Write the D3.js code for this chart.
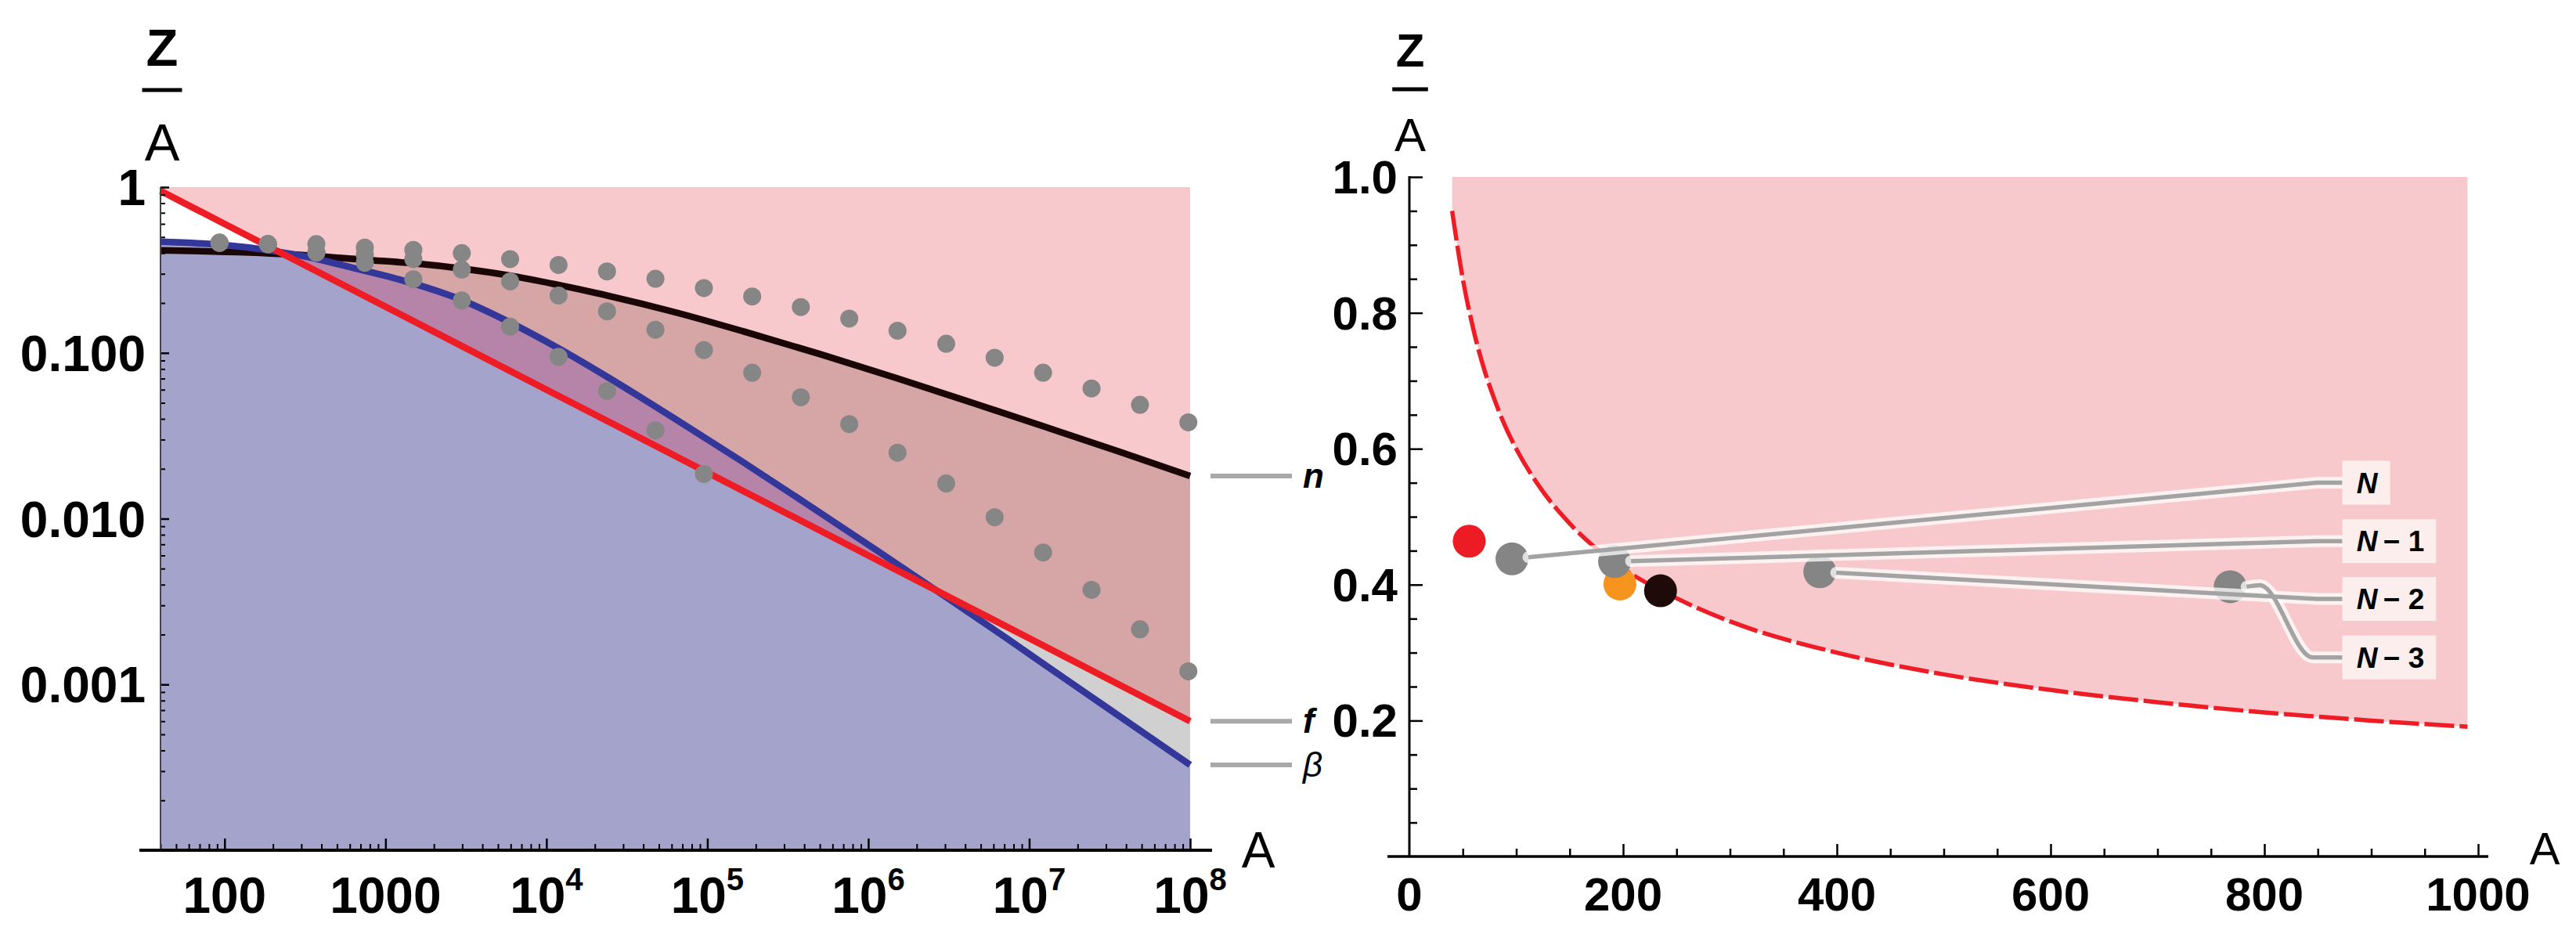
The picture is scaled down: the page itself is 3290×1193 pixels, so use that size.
<!DOCTYPE html>
<html>
<head>
<meta charset="utf-8">
<script src="https://cdn.jsdelivr.net/npm/d3@7"></script>
<style>
body { margin: 0; background: #fff; }
svg { display: block; }
text { font-family: "Liberation Sans", Arial, sans-serif; fill: #000; }
</style>
</head>
<body>
<svg id="chart" width="3290" height="1193"></svg>
<script>
// ---- left panel data (log-log) ----
var fA = [40, 100, 1000, 1e4, 1e5, 1e6, 1e7, 1e8];
var fZ = [0.949, 0.60, 0.19, 0.060, 0.019, 0.0060, 0.0019, 0.0006];

var nA = [40, 248, 770, 1490, 2960, 5920, 11860, 24270, 61500, 166800, 503000, 1514000, 4550000, 13000000, 37000000, 1e8];
var nZ = [0.416, 0.394, 0.364, 0.347, 0.323, 0.293, 0.257, 0.221, 0.177, 0.135, 0.0982, 0.0702, 0.0496, 0.0354, 0.0252, 0.0181];

var betaA = [40, 97, 187, 316, 641, 1493, 2958, 5916, 11860, 24270, 61500, 159000, 412000, 1120000, 2750000, 7130000, 18500000, 47700000, 1e8];
var betaZ = [0.468, 0.448, 0.416, 0.382, 0.324, 0.262, 0.209, 0.153, 0.1067, 0.0710, 0.0406, 0.0226, 0.01233, 0.00647, 0.0036, 0.00192, 0.00101, 0.000537, 0.000327];

var dotA = [93, 186, 372, 744, 1490, 2980, 5950, 11900, 23800, 47600, 95200, 190000, 381000, 762000,
            1520000, 3050000, 6100000, 12200000, 24400000, 48800000, 97500000];
var dotUpper = [0.462, 0.453, 0.453, 0.432, 0.418, 0.40, 0.368, 0.339, 0.310, 0.280, 0.246, 0.219, 0.189, 0.161,
                0.136, 0.1135, 0.0935, 0.0759, 0.061, 0.0486, 0.0381];
var dotMiddle = [0.462, 0.453, 0.405, 0.39, 0.368, 0.318, 0.270, 0.222, 0.178, 0.138, 0.104, 0.0759, 0.054, 0.0372,
                 0.025, 0.0163, 0.0102, 0.00625, 0.00372, 0.00215, 0.0012];
var dotLower = [0.462, 0.453, 0.403, 0.35, 0.278, 0.207, 0.144, 0.0947, 0.0589, 0.0341, 0.0186, null, null, null,
                null, null, null, null, null, null, null];

var leftXTicks = [100, 1000, 1e4, 1e5, 1e6, 1e7, 1e8];
var leftXLabels = ["100", "1000", "10^4", "10^5", "10^6", "10^7", "10^8"];
var leftYTicks = [1, 0.1, 0.01, 0.001];
var leftYLabels = ["1", "0.100", "0.010", "0.001"];
var curveNames = ["n", "f", "\u03b2"];

// ---- right panel data (linear) ----
var fLinA = [40, 50, 60, 70, 80, 90, 100, 120, 150, 200, 250, 300, 400, 500, 600, 700, 800, 900, 990];
var fLinZ = [0.95, 0.85, 0.775, 0.717, 0.671, 0.632, 0.60, 0.548, 0.49, 0.424, 0.38, 0.346, 0.30, 0.268, 0.245, 0.227, 0.212, 0.20, 0.191];

var nucA = [56, 96, 197, 192, 235, 384, 768];
var nucZ = [0.464, 0.438, 0.401, 0.434, 0.391, 0.419, 0.397];
var nucKind = ["iron", "seq", "gold", "seq", "uranium", "seq", "seq"];

var calloutNames = ["N", "N\u2212 1", "N\u2212 2", "N\u2212 3"];
var calloutFromA = [96, 192, 384, 768];
var calloutZ = [0.55, 0.464, 0.379, 0.293];

var rightXTicks = [0, 200, 400, 600, 800, 1000];
var rightYTicks = [0.2, 0.4, 0.6, 0.8, 1.0];

function zip(a, b) {
	return a.map(function(v, i) { return [v, b[i]]; });
}

var svg = d3.select("#chart");
var defs = svg.append("defs");

var xL = d3.scaleLog().domain([40, 1e8]).range([205, 1520]);
var yL = d3.scaleLog().domain([1e-4, 1]).range([1086, 239]);
var xR = d3.scaleLinear().domain([0, 1000]).range([1800, 3165]);
var yR = d3.scaleLinear().domain([0, 1]).range([1094, 226]);

var fPts = zip(fA, fZ), nPts = zip(nA, nZ), bPts = zip(betaA, betaZ);

// ================= left panel =================
var left = svg.append("g");
var plotTop = yL.range()[1], plotBottom = yL.range()[0];
var x0 = xL.range()[0], x1 = xL.range()[1];

function addClip(id, pts, toTop) {
	var area = d3.area().curve(d3.curveMonotoneX)
		.x(function(d) { return xL(d[0]); })
		.y0(toTop ? plotTop : plotBottom)
		.y1(function(d) { return yL(d[1]); });
	defs.append("clipPath").attr("id", id).append("path").attr("d", area(pts));
}
addClip("aboveF", fPts, true);
addClip("belowF", fPts, false);
addClip("belowN", nPts, false);
addClip("belowB", bPts, false);

function band(color, clipA, clipB) {
	var g = left.append("g").attr("clip-path", "url(#" + clipA + ")");
	var r = g.append("rect")
		.attr("x", x0).attr("y", plotTop)
		.attr("width", x1 - x0).attr("height", plotBottom - plotTop)
		.attr("fill", color);
	if (clipB) r.attr("clip-path", "url(#" + clipB + ")");
}
band("#f8c9cc", "aboveF");
band("#d6a5a5", "aboveF", "belowN");
band("#d0d0d0", "belowF", "belowN");
band("#a3a3cc", "belowF", "belowB");
band("#b584a8", "aboveF", "belowB");

var lineL = d3.line().curve(d3.curveMonotoneX)
	.x(function(d) { return xL(d[0]); })
	.y(function(d) { return yL(d[1]); });

left.append("path").attr("d", lineL(nPts)).attr("fill", "none")
	.attr("stroke", "#1a0606").attr("stroke-width", 8.5);
left.append("path").attr("d", lineL(bPts)).attr("fill", "none")
	.attr("stroke", "#33379a").attr("stroke-width", 8.5);
left.append("path").attr("d", lineL(fPts)).attr("fill", "none")
	.attr("stroke", "#ee1d25").attr("stroke-width", 8.5);

[dotLower, dotMiddle, dotUpper].forEach(function(series) {
	left.append("g").selectAll("circle")
		.data(zip(dotA, series).filter(function(d) { return d[1] != null; }))
		.enter().append("circle")
		.attr("cx", function(d) { return xL(d[0]); })
		.attr("cy", function(d) { return yL(d[1]); })
		.attr("r", 11.5)
		.attr("fill", "#868686");
});

// curve name tags on the right of the panel
var tagEnds = [nZ[nZ.length - 1], fZ[fZ.length - 1], betaZ[betaZ.length - 1]];
tagEnds.forEach(function(v, i) {
	var y = yL(v);
	left.append("line").attr("x1", 1546).attr("x2", 1650).attr("y1", y).attr("y2", y)
		.attr("stroke", "#a9a9a9").attr("stroke-width", 6);
	left.append("text").attr("x", 1664).attr("y", y + 15)
		.attr("font-size", 44)
		.attr("font-style", "italic")
		.attr("font-weight", i < 2 ? "bold" : "normal")
		.text(curveNames[i]);
});

// axes
function isPow10(v) {
	var l = Math.log10(v);
	return Math.abs(l - Math.round(l)) < 1e-6;
}
var xMinorL = xL.ticks().filter(function(v) { return !isPow10(v); });
var yMinorL = yL.ticks().filter(function(v) { return !isPow10(v); });

function styleAxis(g, w) {
	g.select(".domain").remove();
	g.selectAll("line").attr("stroke", "#000").attr("stroke-width", w);
}

left.append("g").attr("transform", "translate(0," + plotBottom + ")")
	.call(d3.axisBottom(xL).tickValues(xMinorL).tickSize(-8).tickFormat(""))
	.call(styleAxis, 2);
left.append("g").attr("transform", "translate(0," + plotBottom + ")")
	.call(d3.axisBottom(xL).tickValues(leftXTicks).tickSize(-15).tickFormat(""))
	.call(styleAxis, 2.5);
left.append("g").attr("transform", "translate(" + x0 + ",0)")
	.call(d3.axisLeft(yL).tickValues(yMinorL).tickSize(-6).tickFormat(""))
	.call(styleAxis, 2);
left.append("g").attr("transform", "translate(" + x0 + ",0)")
	.call(d3.axisLeft(yL).tickValues(leftYTicks).tickSize(-11).tickFormat(""))
	.call(styleAxis, 2.5);

left.append("line").attr("x1", x0).attr("x2", x0).attr("y1", plotTop).attr("y2", plotBottom)
	.attr("stroke", "#444").attr("stroke-width", 2);
left.append("line").attr("x1", 178).attr("x2", 1548).attr("y1", plotBottom).attr("y2", plotBottom)
	.attr("stroke", "#000").attr("stroke-width", 4);

leftYTicks.forEach(function(v, i) {
	left.append("text").attr("x", 186).attr("y", yL(v) + 23)
		.attr("text-anchor", "end").attr("font-size", 64).attr("font-weight", "bold")
		.text(leftYLabels[i]);
});
leftXTicks.forEach(function(v, i) {
	var parts = leftXLabels[i].split("^");
	var t = left.append("text").attr("x", xL(v)).attr("y", 1166)
		.attr("text-anchor", "middle").attr("font-size", 64).attr("font-weight", "bold");
	t.append("tspan").text(parts[0]);
	if (parts[1]) t.append("tspan").attr("dy", -29).attr("font-size", 40).text(parts[1]);
});

left.append("text").attr("x", 1607).attr("y", 1108).attr("text-anchor", "middle")
	.attr("font-size", 64).text("A");

function fraction(g, cx, size, zBase, barY, aBase) {
	g.append("text").attr("x", cx).attr("y", zBase).attr("text-anchor", "middle")
		.attr("font-size", size).attr("font-weight", "bold").text("Z");
	g.append("line").attr("x1", cx - size * 0.38).attr("x2", cx + size * 0.38)
		.attr("y1", barY).attr("y2", barY).attr("stroke", "#000").attr("stroke-width", 5);
	g.append("text").attr("x", cx).attr("y", aBase).attr("text-anchor", "middle")
		.attr("font-size", size).text("A");
}
fraction(left, 207, 67, 84, 115, 205);

// ================= right panel =================
var right = svg.append("g");
var fLinPts = zip(fLinA, fLinZ);

right.append("path")
	.attr("d", d3.area().curve(d3.curveMonotoneX)
		.x(function(d) { return xR(d[0]); })
		.y0(yR(1))
		.y1(function(d) { return yR(d[1]); })(fLinPts))
	.attr("fill", "#f8c9cc");

right.append("path")
	.attr("d", d3.line().curve(d3.curveMonotoneX)
		.x(function(d) { return xR(d[0]); })
		.y(function(d) { return yR(d[1]); })(fLinPts))
	.attr("fill", "none").attr("stroke", "#ee1d25").attr("stroke-width", 5.5)
	.attr("stroke-dasharray", "38,7");

// axes
var xMinorR = d3.range(50, 1001, 50).filter(function(v) { return v % 200 !== 0; });
var yMinorR = d3.range(1, 20).map(function(k) { return k * 0.05; })
	.filter(function(v) { return Math.abs(v * 5 - Math.round(v * 5)) > 1e-6; });

right.append("g").attr("transform", "translate(0," + yR(0) + ")")
	.call(d3.axisBottom(xR).tickValues(xMinorR).tickSize(-10).tickFormat(""))
	.call(styleAxis, 2.5);
right.append("g").attr("transform", "translate(0," + yR(0) + ")")
	.call(d3.axisBottom(xR).tickValues(rightXTicks.slice(1)).tickSize(-16).tickFormat(""))
	.call(styleAxis, 2.5);
right.append("g").attr("transform", "translate(" + xR(0) + ",0)")
	.call(d3.axisLeft(yR).tickValues(yMinorR).tickSize(-10).tickFormat(""))
	.call(styleAxis, 2.5);
right.append("g").attr("transform", "translate(" + xR(0) + ",0)")
	.call(d3.axisLeft(yR).tickValues(rightYTicks).tickSize(-17).tickFormat(""))
	.call(styleAxis, 2.5);

right.append("line").attr("x1", xR(0)).attr("x2", xR(0)).attr("y1", yR(1) - 1).attr("y2", yR(0))
	.attr("stroke", "#000").attr("stroke-width", 3);
right.append("line").attr("x1", 1772).attr("x2", 3178).attr("y1", yR(0)).attr("y2", yR(0))
	.attr("stroke", "#000").attr("stroke-width", 3.5);

rightYTicks.forEach(function(v) {
	right.append("text").attr("x", 1785).attr("y", yR(v) + 21)
		.attr("text-anchor", "end").attr("font-size", 60).attr("font-weight", "bold")
		.text(v.toFixed(1));
});
rightXTicks.forEach(function(v) {
	right.append("text").attr("x", xR(v)).attr("y", 1163)
		.attr("text-anchor", "middle").attr("font-size", 60).attr("font-weight", "bold")
		.text(v);
});
right.append("text").attr("x", 3250).attr("y", 1104).attr("text-anchor", "middle")
	.attr("font-size", 58).text("A");
fraction(right, 1801, 60, 85, 114, 193);

// nuclei
var nucColor = d3.scaleOrdinal()
	.domain(["iron", "seq", "gold", "uranium"])
	.range(["#ed1c24", "#858585", "#f7941d", "#1f0a0a"]);
var dotR = 21;
right.append("g").selectAll("circle")
	.data(zip(nucA, nucZ).map(function(d, i) { return d.concat(nucKind[i]); }))
	.enter().append("circle")
	.attr("cx", function(d) { return xR(d[0]); })
	.attr("cy", function(d) { return yR(d[1]); })
	.attr("r", dotR)
	.attr("fill", function(d) { return nucColor(d[2]); });

// callouts from the gray dots to their labels
var labelX = xR(873), elbowX = xR(849);
var paths = calloutFromA.map(function(a, i) {
	var k = nucA.indexOf(a);
	var sx = xR(a), sy = yR(nucZ[k]), ly = yR(calloutZ[i]);
	var pts;
	if (i < 3) {
		var dx = elbowX - sx, dy = ly - sy, len = Math.sqrt(dx * dx + dy * dy);
		pts = [[sx + dx / len * dotR, sy + dy / len * dotR], [elbowX, ly], [labelX, ly]];
	} else {
		pts = [[sx + dotR, sy], [sx + 38, sy - 2], [labelX - 38, ly], [labelX, ly]];
	}
	return { pts: pts, curve: i < 3 ? d3.curveLinear : d3.curveMonotoneX, y: ly };
});
paths.forEach(function(p) {
	right.append("path").attr("d", d3.line().curve(p.curve)(p.pts))
		.attr("fill", "none").attr("stroke", "#fff").attr("stroke-opacity", 0.75)
		.attr("stroke-width", 15).attr("stroke-linejoin", "round").attr("stroke-linecap", "round");
});
paths.forEach(function(p) {
	right.append("path").attr("d", d3.line().curve(p.curve)(p.pts))
		.attr("fill", "none").attr("stroke", "#a3a3a3")
		.attr("stroke-width", 5.5).attr("stroke-linejoin", "round");
});

paths.forEach(function(p, i) {
	var g = right.append("g");
	var box = g.append("rect").attr("fill", "#fdeeee");
	var t = g.append("text").attr("x", labelX + 18).attr("y", p.y + 13)
		.attr("font-size", 37).attr("font-weight", "bold");
	var name = calloutNames[i];
	t.append("tspan").attr("font-style", "italic").text(name.charAt(0));
	if (name.length > 1) t.append("tspan").text("\u2009" + name.slice(1));
	var bb = t.node().getBBox();
	box.attr("x", labelX).attr("y", p.y - 28)
		.attr("width", bb.x + bb.width - labelX + 15).attr("height", 56);
});
</script>
</body>
</html>
